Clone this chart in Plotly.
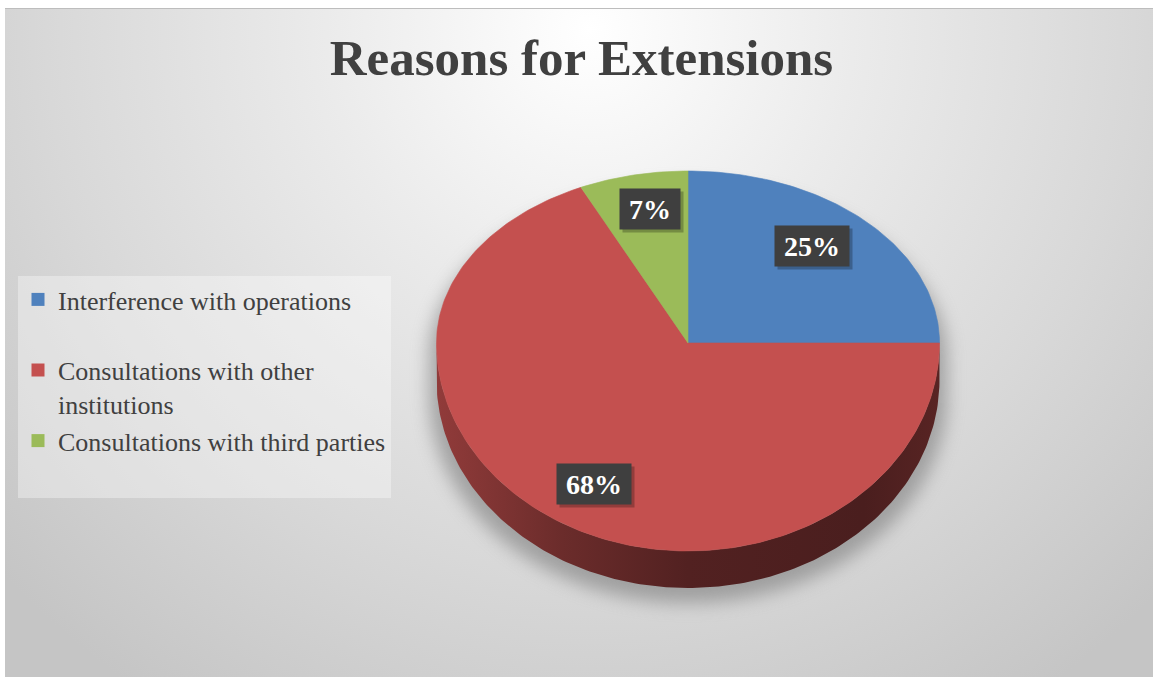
import math
import base64
import plotly.graph_objects as go

# ---------------- data ----------------
categories = ["Interference with operations",
              "Consultations with other institutions",
              "Consultations with third parties"]
legend_labels = ["Interference with operations<br>&nbsp;",
                 "Consultations with other<br>institutions",
                 "Consultations with third parties<br>&nbsp;"]
values = [25, 68, 7]
colors = ["#4F81BD", "#C4504F", "#9BBB59"]

# ---------------- geometry / style ----------------
W, H = 1153, 677
CX, CY = 688, 343          # pie centre (pixel units of the axes)
RX = 251.5                 # horizontal radius
RY_TOP = 172               # vertical radius, back half (perspective)
RY_BOT = 208               # vertical radius, front half
DEPTH = 37                 # thickness of the 3-D side
LABEL_FX, LABEL_FY = 0.70, 0.80
FONT = "Liberation Serif"
TEXT_COL = "#404040"
LBL_SIZE = 28


def pt(theta, fx=1.0, fy=None, dy=0.0):
    if fy is None:
        fy = fx
    t = math.radians(theta)
    s, c = math.sin(t), math.cos(t)
    ry = RY_TOP if c >= 0 else RY_BOT
    return CX + fx * RX * s, CY - fy * ry * c + dy


def arc(a0, a1, dy=0.0):
    n = max(2, int(abs(a1 - a0)) + 1)
    return [pt(a0 + (a1 - a0) * k / (n - 1), 1.0, 1.0, dy) for k in range(n)]


def shade(hexcol, f):
    r, g, b = int(hexcol[1:3], 16), int(hexcol[3:5], 16), int(hexcol[5:7], 16)
    return "rgb(%d,%d,%d)" % (r * f, g * f, b * f)


total = float(sum(values))
angles = []
acc = 0.0
for v in values:
    a0 = acc / total * 360.0
    acc += v
    a1 = acc / total * 360.0
    angles.append((a0, a1))

fig = go.Figure()

# ---- 3-D sides (front half only) ----
for (a0, a1), col in zip(angles, colors):
    lo, hi = max(a0, 90.0), min(a1, 270.0)
    if hi <= lo:
        continue
    top = arc(lo, hi)
    bot = arc(hi, lo, DEPTH)
    pts = top + bot + [top[0]]
    fig.add_trace(go.Scatter(
        x=[p[0] for p in pts], y=[p[1] for p in pts],
        mode="lines", fill="toself", line=dict(width=0),
        fillgradient=dict(type="horizontal",
                          colorscale=[[0.0, shade(col, 0.74)],
                                      [0.25, shade(col, 0.55)],
                                      [0.5, shade(col, 0.42)],
                                      [0.85, shade(col, 0.38)],
                                      [1.0, shade(col, 0.45)]]),
        hoverinfo="skip", showlegend=False))

# ---- top surface slices ----
for (a0, a1), col, name, v in zip(angles, colors, categories, values):
    pts = [(CX, CY)] + arc(a0, a1) + [(CX, CY)]
    fig.add_trace(go.Scatter(
        x=[p[0] for p in pts], y=[p[1] for p in pts],
        mode="lines", fill="toself", fillcolor=col,
        line=dict(width=0.6, color=col),
        name=name, hovertemplate=name + ": %d%%<extra></extra>" % v,
        showlegend=False))

# ---- legend entries ----
for i, (lab, col) in enumerate(zip(legend_labels, colors)):
    fig.add_trace(go.Scatter(
        x=[None], y=[None], mode="markers",
        marker=dict(symbol="square", size=13, color=col),
        name=lab, legendgroup="g%d" % i, showlegend=True))

# ---- percentage labels (dark boxes with soft shadow) ----
annotations = []
for (a0, a1), v in zip(angles, values):
    mid = (a0 + a1) / 2.0
    lx, ly = pt(mid, LABEL_FX, LABEL_FY)
    pct = "%d%%" % round(v / total * 100)
    ndig = len(pct) - 1
    box_w = 0.5 * LBL_SIZE * ndig + LBL_SIZE + 0.5 * LBL_SIZE   # digits + % + padding
    # shadow box (no text)
    annotations.append(dict(x=lx, y=ly, xref="x", yref="y", showarrow=False,
                            text="&nbsp;", width=box_w, height=36, borderpad=2,
                            bgcolor="rgba(0,0,0,0.25)", xshift=3, yshift=-3,
                            font=dict(family=FONT, size=LBL_SIZE, color="rgba(0,0,0,0)")))
    annotations.append(dict(x=lx, y=ly, xref="x", yref="y", showarrow=False,
                            text=pct, width=box_w, height=36, borderpad=2,
                            bgcolor="#3F3F3F",
                            font=dict(family=FONT, size=LBL_SIZE, weight="bold",
                                      color="#FFFFFF")))

# ---- background (radial gradient + pie shadow) as an SVG image ----
sh = []
for k in range(0, 361, 3):
    t = float(k)
    dy = DEPTH if math.cos(math.radians(t)) < 0 else 0.0
    x, y = pt(t, 1.0, 1.0, dy)
    sh.append((CX + (x - CX) * 1.03, y + 15))
shadow_path = "M" + " L".join("%.1f,%.1f" % p for p in sh) + " Z"

svg = f'''<svg xmlns="http://www.w3.org/2000/svg" width="{W}" height="{H}" viewBox="0 0 {W} {H}">
<defs>
<radialGradient id="bg" gradientUnits="userSpaceOnUse" cx="590" cy="30" r="800">
<stop offset="0" stop-color="#FFFFFF"/>
<stop offset="0.33" stop-color="#EBEBEB"/>
<stop offset="0.68" stop-color="#D8D8D8"/>
<stop offset="1" stop-color="#C5C5C5"/>
</radialGradient>
<filter id="blur" x="-20%" y="-20%" width="140%" height="140%"><feGaussianBlur stdDeviation="9"/></filter>
</defs>
<rect x="0" y="0" width="{W}" height="{H}" fill="#FFFFFF"/>
<rect x="5" y="8" width="{W - 5}" height="{H - 8}" fill="url(#bg)"/>
<line x1="5" y1="8.5" x2="{W}" y2="8.5" stroke="#BDBDBD" stroke-width="1"/>
<path d="{shadow_path}" fill="#7A7A7A" opacity="0.6" filter="url(#blur)"/>
</svg>'''
src = "data:image/svg+xml;base64," + base64.b64encode(svg.encode()).decode()

fig.update_layout(
    width=W, height=H, autosize=False,
    margin=dict(l=0, r=0, t=0, b=0, pad=0),
    paper_bgcolor="#FFFFFF", plot_bgcolor="rgba(0,0,0,0)",
    images=[dict(source=src, xref="paper", yref="paper", x=0, y=1,
                 sizex=1, sizey=1, xanchor="left", yanchor="top",
                 sizing="stretch", layer="below")],
    xaxis=dict(range=[0, W], visible=False, fixedrange=True),
    yaxis=dict(range=[H, 0], visible=False, fixedrange=True),
    title=dict(text="Reasons for Extensions",
               font=dict(family=FONT, size=51, weight="bold", color=TEXT_COL),
               x=581.5 / W, xanchor="center", xref="paper",
               y=1 - 57 / H, yanchor="middle", yref="paper"),
    legend=dict(x=18 / W, y=1 - 276 / H, xanchor="left", yanchor="top",
                bgcolor="rgba(255,255,255,0.35)", borderwidth=0,
                font=dict(family=FONT, size=26, color=TEXT_COL),
                traceorder="grouped", tracegroupgap=0, valign="top",
                itemsizing="trace"),
    annotations=annotations,
    showlegend=True,
    hovermode="closest",
)

fig.write_html("out.html")
